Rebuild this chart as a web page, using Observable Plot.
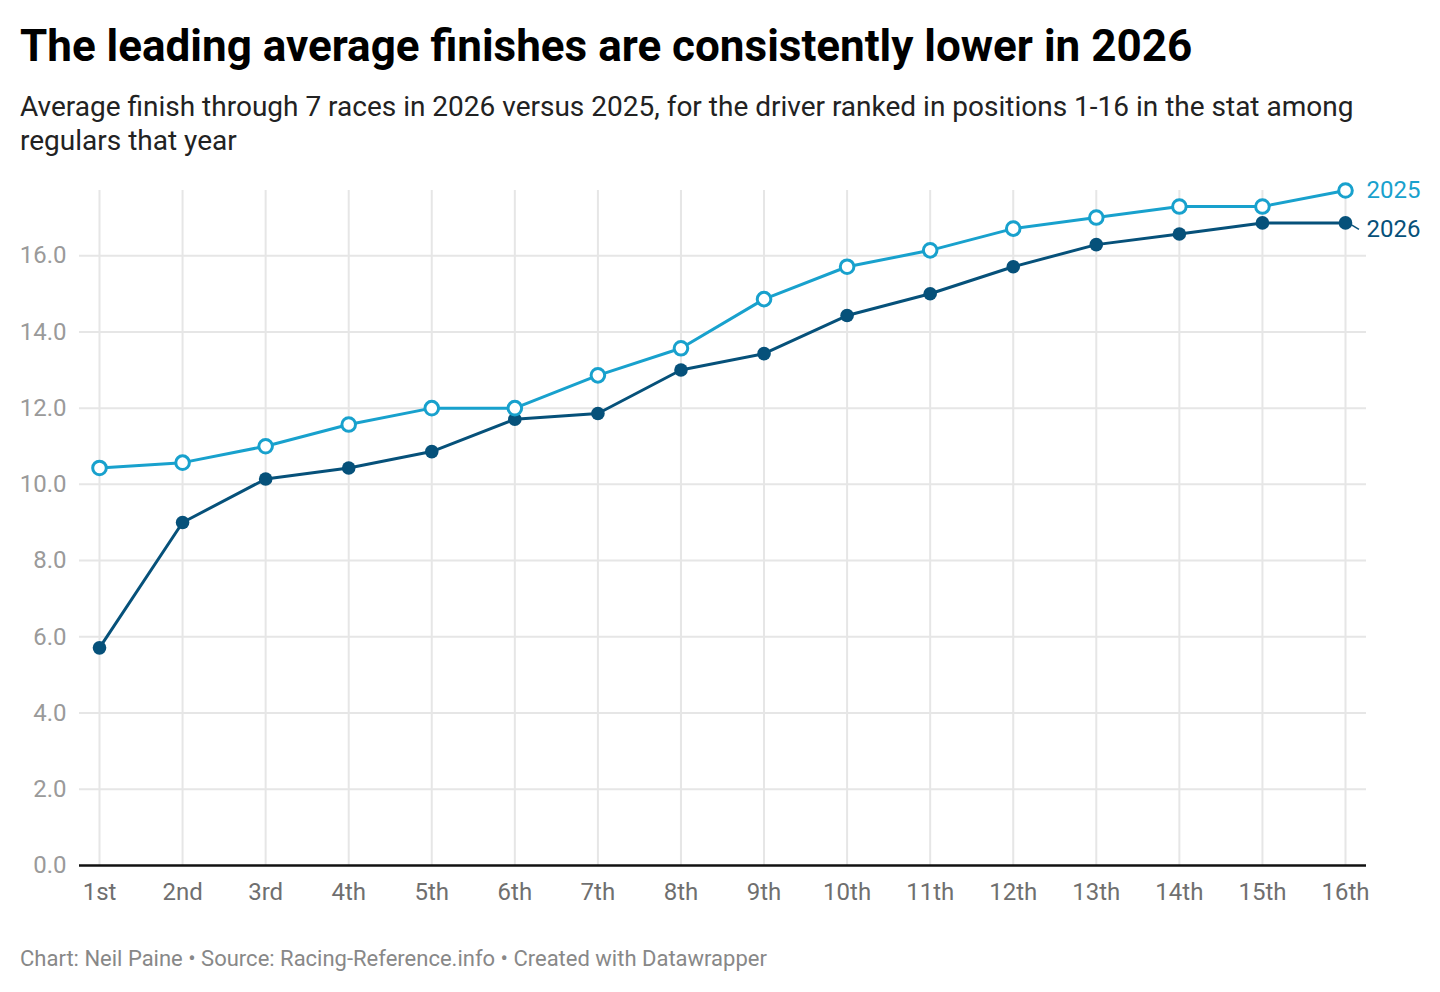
<!DOCTYPE html>
<html>
<head>
<meta charset="utf-8">
<script src="https://cdn.jsdelivr.net/npm/d3@7"></script>
<script src="https://cdn.jsdelivr.net/npm/@observablehq/plot@0.6"></script>
<style>
  html, body { margin: 0; padding: 0; background: #fff; }
  body { width: 1440px; height: 992px; position: relative; font-family: Roboto, "Noto Sans", sans-serif; overflow: hidden; }
  #title { position: absolute; left: 20px; top: 24px; font-size: 44px; font-weight: 700; line-height: 1; color: #000; white-space: nowrap; }
  #subtitle { position: absolute; left: 20px; top: 90px; width: 1370px; font-size: 28px; line-height: 34px; color: #222; }
  #chart { position: absolute; left: 0; top: 170px; }
  #caption { position: absolute; left: 20px; top: 948px; font-size: 22px; line-height: 1; color: #888; white-space: nowrap; }
</style>
</head>
<body>
<div id="title">The leading average finishes are consistently lower in 2026</div>
<div id="subtitle">Average finish through 7 races in 2026 versus 2025, for the driver ranked in positions 1-16 in the stat among regulars that year</div>
<div id="chart"></div>
<div id="caption">Chart: Neil Paine • Source: Racing-Reference.info • Created with Datawrapper</div>
<script>
// Data
const ranks = [1, 2, 3, 4, 5, 6, 7, 8, 9, 10, 11, 12, 13, 14, 15, 16];
const rankLabels = ["1st", "2nd", "3rd", "4th", "5th", "6th", "7th", "8th", "9th", "10th", "11th", "12th", "13th", "14th", "15th", "16th"];
const avg2025 = [10.43, 10.57, 11.0, 11.57, 12.0, 12.0, 12.86, 13.57, 14.86, 15.71, 16.14, 16.71, 17.0, 17.29, 17.29, 17.71];
const avg2026 = [5.71, 9.0, 10.14, 10.43, 10.86, 11.71, 11.86, 13.0, 13.43, 14.43, 15.0, 15.71, 16.29, 16.57, 16.86, 16.86];
const yTicks = [0, 2, 4, 6, 8, 10, 12, 14, 16];
const seriesNames = ["2025", "2026"];
const seriesColors = ["#18a1cd", "#06517a"];

const rows2025 = ranks.map((r, i) => ({rank: r, value: avg2025[i], series: "2025"}));
const rows2026 = ranks.map((r, i) => ({rank: r, value: avg2026[i], series: "2026"}));
const last2025 = rows2025[rows2025.length - 1];
const last2026 = rows2026[rows2026.length - 1];
const yMax = Math.max(...avg2025, ...avg2026);

const chart = Plot.plot({
  width: 1440,
  height: 755,
  marginTop: 20,
  marginBottom: 60,
  marginLeft: 79,
  marginRight: 74,
  style: {fontFamily: "Roboto, sans-serif", fontSize: "24px", background: "transparent"},
  x: {domain: [1, 16], insetLeft: 20, insetRight: 21, axis: null},
  y: {domain: [0, yMax], axis: null},
  marks: [
    Plot.ruleY(yTicks.filter(d => d > 0), {stroke: "#e6e6e6", strokeWidth: 2}),
    Plot.ruleX(ranks, {stroke: "#e6e6e6", strokeWidth: 2}),
    Plot.ruleY([0], {stroke: "#111", strokeWidth: 2.5}),
    Plot.axisY(yTicks, {tickSize: 0, tickPadding: 13, tickFormat: d => d.toFixed(1), fill: "#9a9a9a", fontSize: 24, label: null}),
    Plot.axisX(ranks, {tickSize: 0, tickPadding: 17, tickFormat: d => rankLabels[d - 1], fill: "#6f6f6f", fontSize: 24, label: null}),
    Plot.line(rows2025, {x: "rank", y: "value", stroke: seriesColors[0], strokeWidth: 3}),
    Plot.line(rows2026, {x: "rank", y: "value", stroke: seriesColors[1], strokeWidth: 3}),
    Plot.dot(rows2026, {x: "rank", y: "value", r: 6.8, fill: seriesColors[1], stroke: "none"}),
    Plot.dot(rows2025, {x: "rank", y: "value", r: 6.8, fill: "#fff", stroke: seriesColors[0], strokeWidth: 3}),
    Plot.link([last2026], {x1: "rank", y1: "value", x2: d => d.rank + 0.09, y2: d => d.value - 0.12, dx: 6, dy: 2, stroke: seriesColors[1], strokeWidth: 1.5}),
    Plot.text([last2025], {x: "rank", y: "value", text: () => seriesNames[0], dx: 21, textAnchor: "start", fill: seriesColors[0], fontSize: 24}),
    Plot.text([last2026], {x: "rank", y: "value", text: () => seriesNames[1], dx: 21, dy: 6, textAnchor: "start", fill: seriesColors[1], fontSize: 24})
  ]
});
document.getElementById("chart").appendChild(chart);
</script>
</body>
</html>
